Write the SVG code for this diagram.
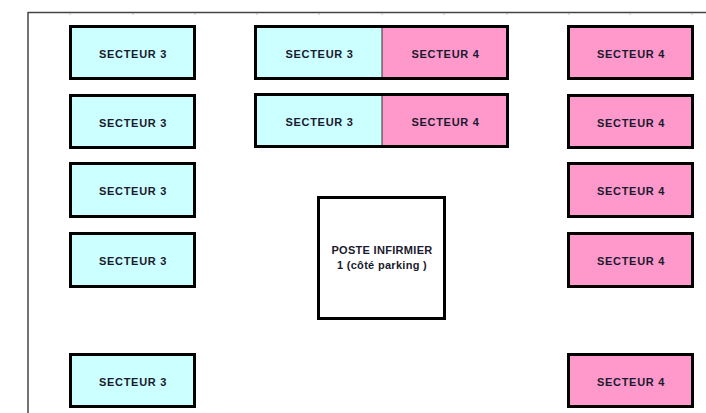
<svg xmlns="http://www.w3.org/2000/svg" width="706" height="413" viewBox="0 0 706 413">
<style>
.s3{fill:#ccffff;stroke:#000;stroke-width:3}
.s4{fill:#ff99cc;stroke:#000;stroke-width:3}
.half3{fill:#ccffff;stroke:none}
.half4{fill:#ff99cc;stroke:none}
.frame{fill:none;stroke:#000;stroke-width:3}
.div{stroke:#333;stroke-width:1}
.post{fill:#fff;stroke:#000;stroke-width:3}
text{font-family:"Liberation Sans",Arial,sans-serif;font-weight:bold;font-size:11px;letter-spacing:0.7px;fill:#1a1a2e;text-anchor:middle}
.tick{stroke:#bbb;stroke-width:1}
</style>
<rect width="706" height="413" fill="#fff"/>
<g id="border">
<line x1="28" y1="12.5" x2="706" y2="12.5" stroke="#444" stroke-width="1.5"/>
<line x1="28" y1="12" x2="28" y2="413" stroke="#444" stroke-width="1.5"/>
<g class="tick">
<line x1="70" y1="13" x2="70" y2="15"/><line x1="133" y1="13" x2="133" y2="15"/><line x1="195" y1="13" x2="195" y2="15"/>
<line x1="257" y1="13" x2="257" y2="15"/><line x1="319" y1="13" x2="319" y2="15"/><line x1="382" y1="13" x2="382" y2="15"/>
<line x1="444" y1="13" x2="444" y2="15"/><line x1="507" y1="13" x2="507" y2="15"/><line x1="569" y1="13" x2="569" y2="15"/>
<line x1="630" y1="13" x2="630" y2="15"/><line x1="692" y1="13" x2="692" y2="15"/>
</g>
</g>
<g id="L1"><rect class="s3" x="70.5" y="26.5" width="124" height="52"/><text x="133" y="58">SECTEUR 3</text></g>
<g id="L2"><rect class="s3" x="70.5" y="95.5" width="124" height="52"/><text x="133" y="127">SECTEUR 3</text></g>
<g id="L3"><rect class="s3" x="70.5" y="163.5" width="124" height="53"/><text x="133" y="195">SECTEUR 3</text></g>
<g id="L4"><rect class="s3" x="70.5" y="233.5" width="124" height="53"/><text x="133" y="265">SECTEUR 3</text></g>
<g id="L5"><rect class="s3" x="70.5" y="354.5" width="124" height="52"/><text x="133" y="386">SECTEUR 3</text></g>
<g id="M1">
<rect class="half3" x="256" y="27" width="126" height="51"/><rect class="half4" x="382" y="27" width="125" height="51"/>
<line class="div" x1="382" y1="27" x2="382" y2="78"/>
<rect class="frame" x="255.5" y="26.5" width="252" height="52"/>
<text x="319.5" y="58">SECTEUR 3</text><text x="445.5" y="58">SECTEUR 4</text>
</g>
<g id="M2">
<rect class="half3" x="256" y="95" width="126" height="51"/><rect class="half4" x="382" y="95" width="125" height="51"/>
<line class="div" x1="382" y1="95" x2="382" y2="146"/>
<rect class="frame" x="255.5" y="94.5" width="252" height="52"/>
<text x="319.5" y="126">SECTEUR 3</text><text x="445.5" y="126">SECTEUR 4</text>
</g>
<g id="R1"><rect class="s4" x="568.5" y="26.5" width="124" height="52"/><text x="631" y="58">SECTEUR 4</text></g>
<g id="R2"><rect class="s4" x="568.5" y="95.5" width="124" height="52"/><text x="631" y="127">SECTEUR 4</text></g>
<g id="R3"><rect class="s4" x="568.5" y="163.5" width="124" height="53"/><text x="631" y="195">SECTEUR 4</text></g>
<g id="R4"><rect class="s4" x="568.5" y="233.5" width="124" height="53"/><text x="631" y="265">SECTEUR 4</text></g>
<g id="R5"><rect class="s4" x="568.5" y="354.5" width="124" height="52"/><text x="631" y="386">SECTEUR 4</text></g>
<g id="poste">
<rect class="post" x="318.5" y="197.5" width="126" height="121"/>
<text x="382" y="254" style="letter-spacing:0.3px">POSTE INFIRMIER</text>
<text x="382" y="269" style="letter-spacing:0.3px">1 (côté parking )</text>
</g>
<g id="connectors"/>
</svg>
